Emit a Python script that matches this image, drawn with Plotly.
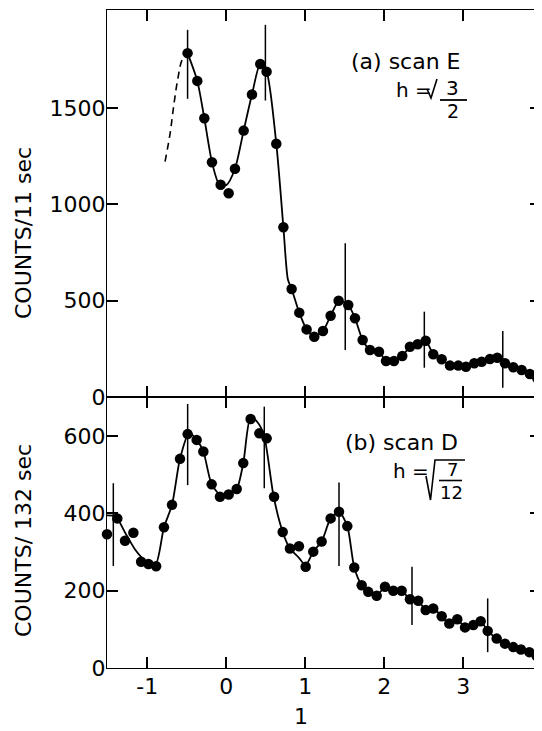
import plotly.graph_objects as go
from plotly.subplots import make_subplots

# ---------------- data: panel (a) scan E ----------------
a_x = [-0.49, -0.367, -0.278, -0.181, -0.071, 0.030, 0.11, 0.22, 0.325, 0.43, 0.51, 0.633,
       0.723, 0.827, 0.924, 1.017, 1.114, 1.224, 1.321, 1.422, 1.544, 1.629, 1.726, 1.819,
       1.933, 2.022, 2.123, 2.228, 2.325, 2.423, 2.524, 2.62, 2.727, 2.832, 2.937, 3.034,
       3.139, 3.233, 3.338, 3.43, 3.528, 3.633, 3.739, 3.843, 3.937]
a_y = [1785, 1641, 1447, 1219, 1102, 1058, 1185, 1383, 1570, 1729, 1689, 1315,
       881, 561, 438, 351, 313, 343, 422, 500, 478, 409, 296, 244,
       235, 187, 187, 213, 261, 274, 292, 222, 196, 163, 163, 157,
       175, 183, 197, 204, 175, 154, 140, 119, 97]

a_curve_x = [-0.49, -0.367, -0.278, -0.181, -0.09, 0.0, 0.11, 0.22, 0.325, 0.43, 0.51, 0.633,
             0.723, 0.78, 0.827, 0.924, 1.017, 1.114, 1.224, 1.321, 1.43, 1.544, 1.629, 1.726,
             1.819, 1.933, 2.022, 2.123, 2.228, 2.325, 2.423, 2.524, 2.62, 2.727, 2.832, 2.937,
             3.034, 3.139, 3.233, 3.338, 3.43, 3.528, 3.633, 3.739, 3.843, 3.937]
a_curve_y = [1785, 1641, 1447, 1219, 1105, 1100, 1185, 1383, 1570, 1729, 1689, 1315,
             881, 610, 561, 438, 351, 315, 343, 422, 500, 478, 409, 296,
             244, 235, 187, 187, 213, 261, 274, 292, 222, 196, 163, 163,
             157, 175, 183, 197, 204, 175, 154, 140, 119, 97]

a_dash_x = [-0.775, -0.711, -0.667, -0.616, -0.56, -0.50]
a_dash_y = [1222, 1369, 1507, 1646, 1750, 1785]

a_err_x = [-0.49, 0.495, 1.506, 2.507, 3.50]
a_err_lo = [1548, 1539, 244, 152, 48]
a_err_hi = [1906, 1932, 798, 443, 343]

# ---------------- data: panel (b) scan D ----------------
b_x = [-1.51, -1.38, -1.282, -1.176, -1.078, -0.985, -0.888, -0.789, -0.687, -0.586, -0.489,
       -0.375, -0.29, -0.185, -0.08, 0.03, 0.132, 0.215, 0.308, 0.418, 0.511, 0.605,
       0.714, 0.806, 0.92, 1.005, 1.101, 1.207, 1.321, 1.427, 1.532, 1.62, 1.714, 1.797,
       1.904, 2.009, 2.114, 2.22, 2.325, 2.43, 2.524, 2.62, 2.727, 2.823, 2.924, 3.022,
       3.127, 3.22, 3.309, 3.423, 3.528, 3.633, 3.73, 3.836, 3.929]
b_y = [346, 387, 329, 350, 275, 269, 263, 364, 422, 541, 605,
       590, 560, 475, 443, 449, 463, 530, 644, 607, 594, 443,
       352, 309, 315, 262, 301, 327, 387, 404, 367, 260, 214, 197,
       187, 210, 200, 200, 178, 174, 150, 154, 134, 115, 126, 105,
       111, 121, 96, 76, 63, 54, 48, 41, 31]

b_curve_x = [-1.51, -1.40, -1.28, -1.15, -1.03, -0.90, -0.789, -0.687, -0.586, -0.47,
             -0.375, -0.29, -0.185, -0.06, 0.03, 0.132, 0.215, 0.31, 0.405, 0.48, 0.60,
             0.714, 0.806, 0.92, 1.005, 1.101, 1.207, 1.321, 1.427, 1.532, 1.62, 1.714,
             1.797, 1.904, 2.009, 2.114, 2.22, 2.325, 2.43, 2.524, 2.62, 2.727, 2.823,
             2.924, 3.022, 3.127, 3.22, 3.309, 3.423, 3.528, 3.633, 3.73, 3.836, 3.929]
b_curve_y = [395, 392, 350, 305, 278, 265, 364, 422, 541, 608,
             590, 560, 475, 445, 449, 463, 530, 650, 633, 600, 443,
             352, 309, 285, 266, 301, 327, 387, 404, 367, 260, 214,
             197, 187, 210, 200, 200, 178, 174, 150, 154, 134, 115,
             126, 105, 111, 121, 96, 76, 63, 54, 48, 41, 31]

b_err_x = [-1.43, -0.489, 0.481, 1.427, 2.351, 3.309]
b_err_lo = [264, 473, 465, 264, 111, 41]
b_err_hi = [478, 683, 676, 480, 262, 180]

x_ticks = [-1, 0, 1, 2, 3]
x_ticktext = ["-1", "0", "1", "2", "3"]
a_yticks = [0, 500, 1000, 1500]
b_yticks = [0, 200, 400, 600]

# ---------------- figure ----------------
# the page body has an 8px margin; the figure is sized so it fits the 542x731 window
OFF = 8
W, H = 542 - OFF, 731 - OFF
L, T = 107 - OFF, 10 - OFF
R = W - (541 - OFF)
B = H - (668 - OFF)
PW, PH = W - L - R, H - T - B


def px(xp):  # screenshot pixel x -> paper
    return (xp - OFF - L) / PW


def py(yp):  # screenshot pixel y -> paper
    return (H - B - (yp - OFF)) / PH


FONT = "DejaVu Sans"

fig = make_subplots(rows=2, cols=1, shared_xaxes=True, vertical_spacing=0,
                    row_heights=[387, 271])


def err_path(xs, lo, hi):
    ex, ey = [], []
    for x, l, h in zip(xs, lo, hi):
        ex += [x, x, None]
        ey += [l, h, None]
    return ex, ey


for row, (cx, cy, dx, dy, ex_, lo_, hi_) in enumerate([
        (a_curve_x, a_curve_y, a_x, a_y, a_err_x, a_err_lo, a_err_hi),
        (b_curve_x, b_curve_y, b_x, b_y, b_err_x, b_err_lo, b_err_hi)], start=1):
    fig.add_trace(go.Scatter(x=cx, y=cy, mode="lines", line=dict(color="black", width=1.8,
                  shape="spline", smoothing=0.7), showlegend=False, hoverinfo="skip"),
                  row=row, col=1)
    ex, ey = err_path(ex_, lo_, hi_)
    fig.add_trace(go.Scatter(x=ex, y=ey, mode="lines", line=dict(color="black", width=1.5),
                  showlegend=False, hoverinfo="skip"), row=row, col=1)
    fig.add_trace(go.Scatter(x=dx, y=dy, mode="markers", marker=dict(color="black", size=10.5),
                  cliponaxis=False, showlegend=False), row=row, col=1)

fig.add_trace(go.Scatter(x=a_dash_x, y=a_dash_y, mode="lines",
              line=dict(color="black", width=1.6, dash="7px,5px", shape="spline"),
              showlegend=False, hoverinfo="skip"), row=1, col=1)

axis_common = dict(showline=True, linecolor="black", linewidth=1.4, mirror="ticks",
                   ticks="inside", ticklen=11, tickwidth=1.5, tickcolor="black",
                   showgrid=False, zeroline=False, automargin=False,
                   tickfont=dict(family=FONT, size=22, color="black"))

fig.update_xaxes(range=[-1.51, 3.984], tickvals=x_ticks, **axis_common)
fig.update_xaxes(showticklabels=False, row=1, col=1)
fig.update_xaxes(ticktext=x_ticktext, ticklabelstandoff=-2, row=2, col=1)
fig.update_yaxes(range=[0, 2009], tickvals=a_yticks, ticklabelstandoff=-4, row=1, col=1,
                 **axis_common)
fig.update_yaxes(range=[0, 701], tickvals=b_yticks, ticklabelstandoff=-4, row=2, col=1,
                 **axis_common)

ann = []


def text(xp, yp, s, size=22, angle=0, xanchor="center"):
    ann.append(dict(x=px(xp), y=py(yp), xref="paper", yref="paper", text=s, showarrow=False,
                    textangle=angle, xanchor=xanchor, yanchor="middle",
                    font=dict(family=FONT, size=size, color="black")))


text(23, 233, "COUNTS/11 sec", angle=-90)
text(23, 541, "COUNTS/ 132 sec", angle=-90)
text(300.7, 716, "1")
text(406, 62, "(a) scan E")
text(414, 90, "h =", size=20)
text(452, 88, "3", size=20)
text(453, 111, "2", size=19)
text(401, 442, "(b) scan D")
text(411, 471, "h =", size=20)
text(452, 469, "7", size=18)
text(451, 492, "12", size=18)

shapes = [
    # fraction bar (a)
    dict(type="line", xref="paper", yref="paper", x0=px(440), x1=px(467), y0=py(100), y1=py(100),
         line=dict(color="black", width=1.8)),
    # radical (a)
    dict(type="path", xref="paper", yref="paper",
         path=f"M {px(427)},{py(89)} L {px(431)},{py(98)} L {px(437)},{py(79)}",
         line=dict(color="black", width=1.6)),
    # fraction bar (b)
    dict(type="line", xref="paper", yref="paper", x0=px(439), x1=px(462), y0=py(480.5), y1=py(480.5),
         line=dict(color="black", width=1.6)),
    # radical (b)
    dict(type="path", xref="paper", yref="paper",
         path=f"M {px(426)},{py(476)} L {px(430.5)},{py(500)} L {px(435)},{py(460)} L {px(465)},{py(460)}",
         line=dict(color="black", width=1.6)),
]

fig.update_layout(width=W, height=H, margin=dict(l=L, r=R, t=T, b=B, autoexpand=False),
                  paper_bgcolor="white", plot_bgcolor="white",
                  annotations=ann, shapes=shapes, showlegend=False)

fig.write_html("out.html")
